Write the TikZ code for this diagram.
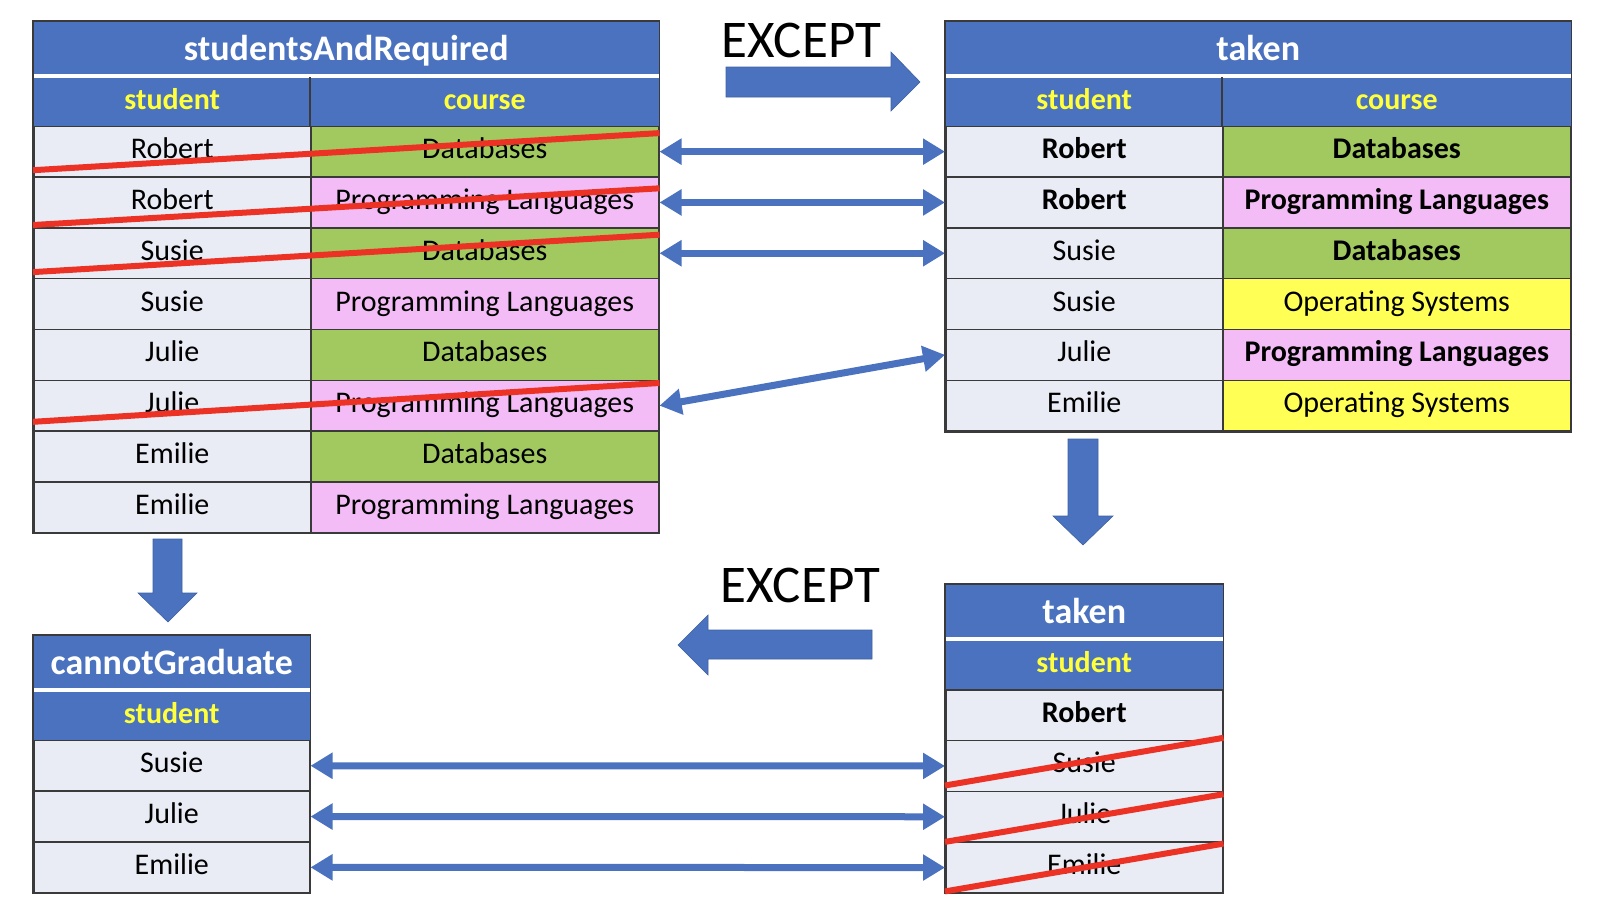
\documentclass[tikz,border=0pt]{standalone}
\usepackage{fontspec}
\setmainfont{Carlito}
\usetikzlibrary{arrows.meta,positioning}

\definecolor{hdrblue}{HTML}{4A72BE}
\definecolor{hdryellow}{HTML}{FFFF3C}
\definecolor{rowgray}{HTML}{E9EBF5}
\definecolor{dbgreen}{HTML}{A1C960}
\definecolor{plpink}{HTML}{F4BCF6}
\definecolor{osyellow}{HTML}{FFFF55}
\definecolor{gridline}{HTML}{3A3A3A}
\definecolor{arrblue}{HTML}{4A72BE}
\definecolor{strikered}{HTML}{EC3224}

\newcommand{\cellfont}{\fontsize{30}{36}\selectfont}
\newcommand{\titlefont}{\fontsize{36}{43}\selectfont\bfseries}
\newcommand{\headfont}{\fontsize{30}{36}\selectfont\bfseries}

\tikzset{
	cell/.style={rectangle, draw=gridline, line width=1.5pt, inner sep=0pt, anchor=north west,
		minimum height=50.8pt, text height=20pt, text depth=6pt, fill=rowgray, text=black, font=\cellfont},
	titlecell/.style={cell, draw=none, fill=hdrblue, text=white, font=\titlefont, minimum height=52pt,
		text height=26pt, text depth=0pt},
	headcell/.style={cell, draw=none, fill=hdrblue, text=hdryellow, font=\headfont, minimum height=48.5pt},
	frame/.style={draw=gridline, line width=1.5pt},
	link/.style={draw=arrblue, line width=7pt, {Triangle[length=22pt,width=25pt]}-{Triangle[length=22pt,width=25pt]}},
	strike/.style={draw=strikered, line width=6pt},
	blockarrow/.style={fill=arrblue, draw=arrblue!85!black, line width=0.6pt},
	keyword/.style={font=\fontsize{53}{64}\selectfont, anchor=base}
}

\begin{document}
\begin{tikzpicture}[x=1pt,y=-1pt]

	\useasboundingbox (0,0) rectangle (1606,908);

	% studentsAndRequired
	\node[titlecell, minimum width=625pt] (sr-t) at (33,21) {studentsAndRequired};
	\node[headcell, minimum width=277pt] (sr-hs) at (33,77) {student};
	\node[headcell, minimum width=348pt] (sr-hc) at (310,77) {course};
	\foreach \s/\c/\col [count=\i from 0] in {Robert/Databases/dbgreen, Robert/Programming Languages/plpink,
		Susie/Databases/dbgreen, Susie/Programming Languages/plpink, Julie/Databases/dbgreen,
		Julie/Programming Languages/plpink, Emilie/Databases/dbgreen, Emilie/Programming Languages/plpink}
	{
		\node[cell, minimum width=277pt] (sr-s\i) at (33,{125.5+\i*50.8}) {\s};
		\node[cell, minimum width=348pt, fill=\col] (sr-c\i) at (310,{125.5+\i*50.8}) {\c};
	}
	\draw[frame] (sr-hc.north west) -- (sr-hc.south west);
	\draw[frame] (sr-t.north west) rectangle (sr-c7.south east);

	% taken
	\node[titlecell, minimum width=625pt] (tk-t) at (945,21) {taken};
	\node[headcell, minimum width=277pt] (tk-hs) at (945,77) {student};
	\node[headcell, minimum width=348pt] (tk-hc) at (1222,77) {course};
	\foreach \s/\c/\col [count=\i from 0] in {\bfseries Robert/\bfseries Databases/dbgreen,
		\bfseries Robert/\bfseries Programming Languages/plpink, Susie/\bfseries Databases/dbgreen,
		Susie/Operating Systems/osyellow, Julie/\bfseries Programming Languages/plpink,
		Emilie/Operating Systems/osyellow}
	{
		\node[cell, minimum width=277pt] (tk-s\i) at (945,{125.5+\i*50.8}) {\s};
		\node[cell, minimum width=348pt, fill=\col] (tk-c\i) at (1222,{125.5+\i*50.8}) {\c};
	}
	\draw[frame] (tk-hc.north west) -- (tk-hc.south west);
	\draw[frame] (tk-t.north west) rectangle (tk-c5.south east);

	% taken, student only
	\node[titlecell, minimum width=277pt] (ts-t) at (945,584) {taken};
	\node[headcell, minimum width=277pt] (ts-h) at (945,640.5) {student};
	\foreach \s [count=\i from 0] in {\bfseries Robert, Susie, Julie, Emilie}
		\node[cell, minimum width=277pt] (ts-s\i) at (945,{689+\i*50.8}) {\s};
	\draw[frame] (ts-t.north west) rectangle (ts-s3.south east);

	% cannotGraduate
	\node[titlecell, minimum width=276pt] (cg-t) at (33,635) {cannotGraduate};
	\node[headcell, minimum width=276pt] (cg-h) at (33,691) {student};
	\foreach \s [count=\i from 0] in {Susie, Julie, Emilie}
		\node[cell, minimum width=276pt] (cg-s\i) at (33,{739.6+\i*50.8}) {\s};
	\draw[frame] (cg-t.north west) rectangle (cg-s2.south east);

	% crossed out rows
	\draw[strike] ([yshift=7.6pt]sr-s0.south west) -- ([yshift=-7.6pt]sr-c0.north east);
	\draw[strike] ([yshift=3.6pt]sr-s1.south west) -- ([yshift=-12pt]sr-c1.north east);
	\draw[strike] ([yshift=7.3pt]sr-s2.south west) -- ([yshift=-7.6pt]sr-c2.north east);
	\draw[strike] ([yshift=10pt]sr-s5.south west) -- ([yshift=-3.5pt]sr-c5.north east);
	\draw[strike] ([yshift=6.6pt]ts-s1.south west) -- ([yshift=2pt]ts-s1.north east);
	\draw[strike] ([yshift=1pt]ts-s2.south west) -- ([yshift=-3.6pt]ts-s2.north east);
	\draw[strike] ([yshift=2.3pt]ts-s3.south west) -- ([yshift=-2.2pt]ts-s3.north east);

	% matching rows
	\foreach \i in {0,1,2}
		\draw[link] (sr-c\i.east) -- (tk-s\i.west);
	\draw[link] (sr-c5.east) -- (tk-s4.west);
	\foreach \i [evaluate=\i as \j using int(\i+1)] in {0,1,2}
		\draw[link] (cg-s\i.east) -- (ts-s\j.west);

	% block arrows
	\fill[blockarrow] (726,67) -- (891,67) -- (891,52) -- (920,82) -- (891,111) -- (891,97) -- (726,97) -- cycle;
	\fill[blockarrow] (872,630) -- (708,630) -- (708,615) -- (678,645) -- (708,675) -- (708,659) -- (872,659) -- cycle;
	\fill[blockarrow] (153,539) -- (182,539) -- (182,593) -- (197,593) -- (168,622) -- (138,593) -- (153,593) -- cycle;
	\fill[blockarrow] (1068,439) -- (1098,439) -- (1098,516) -- (1113,516) -- (1083,545) -- (1053,516) -- (1068,516) -- cycle;

	\node[keyword] (exc-top) at (801.5,57) {EXCEPT};
	\node[keyword] (exc-bot) at (800.5,602) {EXCEPT};

\end{tikzpicture}
\end{document}
